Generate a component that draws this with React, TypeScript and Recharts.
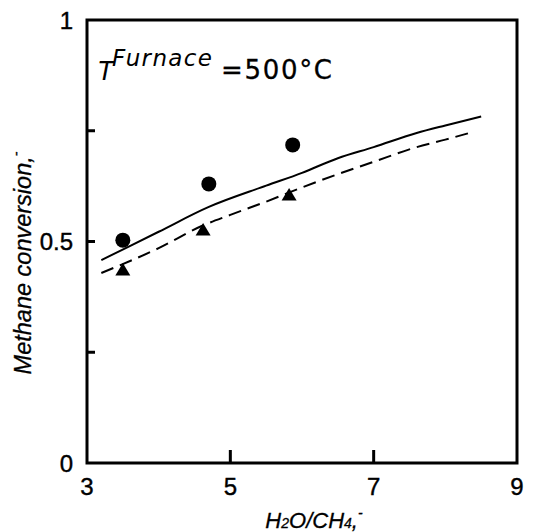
import { ComposedChart, Line, Scatter, XAxis, YAxis, ReferenceArea, Label } from "recharts";

const xTicks = [3, 5, 7, 9];
const yTicks = [0, 0.25, 0.5, 0.75, 1];
const yTickLabels = ["0", "", "0.5", "", "1"];

const solidX = [3.2, 4.0, 4.7, 5.5, 6.0, 6.5, 7.0, 7.6, 8.0, 8.5];
const solidY = [0.458, 0.522, 0.578, 0.626, 0.655, 0.688, 0.713, 0.745, 0.762, 0.782];

const dashedX = [3.2, 4.0, 4.6, 5.0, 5.5, 6.0, 6.5, 7.0, 7.6, 8.0, 8.4];
const dashedY = [0.429, 0.485, 0.535, 0.56, 0.59, 0.622, 0.652, 0.68, 0.713, 0.73, 0.748];

const circleX = [3.5, 4.7, 5.87];
const circleY = [0.503, 0.63, 0.718];

const triangleX = [3.5, 4.62, 5.82];
const triangleY = [0.437, 0.527, 0.606];

const zip = (xs: number[], ys: number[]) => xs.map((x, i) => ({ x, y: ys[i] }));

const font = "'Liberation Sans', Arial, sans-serif";
const wide = "'DejaVu Sans', Verdana, sans-serif";

const XTick = (props: any) => {
  const { x, y, payload } = props;
  const inner = payload.value !== 3 && payload.value !== 9;
  return (
    <g>
      {inner && <line x1={x} y1={y} x2={x} y2={y - 13} stroke="#000" strokeWidth={3} />}
      <text x={x} y={y + 32} textAnchor="middle" fontSize={24} fontFamily={font} fill="#000" stroke="#000" strokeWidth={0.4}>
        {payload.value}
      </text>
    </g>
  );
};

const YTick = (props: any) => {
  const { x, y, payload, index } = props;
  const inner = payload.value !== 0 && payload.value !== 1;
  return (
    <g>
      {inner && <line x1={x} y1={y} x2={x + 8} y2={y} stroke="#000" strokeWidth={3} />}
      <text x={x - 14} y={y + 8.5} textAnchor="end" fontSize={24} fontFamily={font} fill="#000" stroke="#000" strokeWidth={0.4}>
        {yTickLabels[index]}
      </text>
    </g>
  );
};

const Dot = (props: any) => <circle cx={props.cx} cy={props.cy} r={7.5} fill="#000" />;

const Tri = (props: any) => {
  const { cx, cy } = props;
  return <polygon points={`${cx - 7.5},${cy + 6} ${cx + 7.5},${cy + 6} ${cx},${cy - 6.5}`} fill="#000" />;
};

export default function App() {
  return (
    <div style={{ position: "absolute", left: 0, top: 0, background: "#fff" }}>
      <ComposedChart width={534} height={532} margin={{ top: 20, right: 17, bottom: 0, left: 0 }}>
        <XAxis
          type="number"
          dataKey="x"
          domain={[3, 9]}
          ticks={xTicks}
          axisLine={false}
          tickLine={false}
          tickSize={0}
          tickMargin={0}
          height={69}
          tick={<XTick />}
          allowDataOverflow
        >
          <Label
            content={(p: any) => {
              const vb = p.viewBox;
              const cx = vb.x + vb.width / 2 + 12;
              return (
                <text x={cx} y={vb.y + 65} textAnchor="middle" fontSize={22} fontStyle="italic" fontFamily={font} fill="#000" stroke="#000" strokeWidth={0.3}>
                  H<tspan fontSize={14}>2</tspan>O/CH<tspan fontSize={14}>4</tspan>,
                  <tspan fontSize={14} dy={-10}>-</tspan>
                </text>
              );
            }}
          />
        </XAxis>
        <YAxis
          type="number"
          domain={[0, 1]}
          ticks={yTicks}
          axisLine={false}
          tickLine={false}
          tickSize={0}
          tickMargin={0}
          width={87}
          tick={<YTick />}
          allowDataOverflow
        >
          <Label
            content={() => {
              const cy = 263;
              return (
                <text
                  x={31}
                  y={cy}
                  transform={`rotate(-90 31 ${cy})`}
                  textAnchor="middle"
                  fontSize={23.5}
                  fontStyle="italic"
                  fontFamily={font}
                  fill="#000"
                  stroke="#000"
                  strokeWidth={0.3}
                >
                  Methane conversion,<tspan fontSize={14} dy={-10}>-</tspan>
                </text>
              );
            }}
          />
        </YAxis>
        <ReferenceArea x1={3} x2={9} y1={0} y2={1} fill="none" stroke="#000" strokeWidth={3} fillOpacity={0}>
          <Label
            content={(p: any) => {
              const vb = p.viewBox;
              return (
                <g fill="#000">
                  <text x={vb.x + 10} y={vb.y + 60} fontSize={27} fontStyle="italic" fontFamily={font}>T</text>
                  <text x={vb.x + 25} y={vb.y + 46} fontSize={23} fontStyle="italic" fontFamily={wide} textLength={100}>
                    Furnace
                  </text>
                  <text x={vb.x + 134} y={vb.y + 59} fontSize={26} fontFamily={wide} textLength={111} stroke="#000" strokeWidth={0.3}>
                    =500°C
                  </text>
                </g>
              );
            }}
          />
        </ReferenceArea>
        <Line data={zip(solidX, solidY)} dataKey="y" type="monotone" stroke="#000" strokeWidth={2} dot={false} isAnimationActive={false} />
        <Line
          data={zip(dashedX, dashedY)}
          dataKey="y"
          type="monotone"
          stroke="#000"
          strokeWidth={2}
          strokeDasharray="13 7"
          dot={false}
          isAnimationActive={false}
        />
        <Scatter data={zip(circleX, circleY)} dataKey="y" shape={<Dot />} isAnimationActive={false} />
        <Scatter data={zip(triangleX, triangleY)} dataKey="y" shape={<Tri />} isAnimationActive={false} />
      </ComposedChart>
    </div>
  );
}
